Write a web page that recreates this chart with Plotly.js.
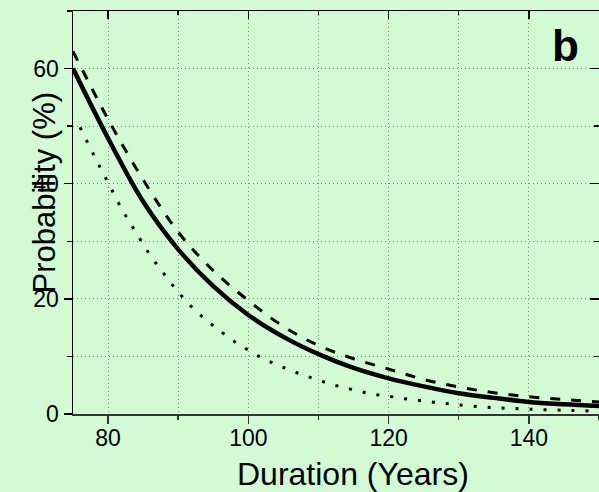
<!DOCTYPE html>
<html>
<head>
<meta charset="utf-8">
<script src="https://cdn.plot.ly/plotly-3.0.1.min.js"></script>
<style>html,body{margin:0;padding:0;background:#d3fbd3;}#chart{width:599px;height:492px;}</style>
</head>
<body>
<div id="chart"></div>
<script>
// Data
const years = [75,80,85,90,95,100,105,110,115,120,125,130,135,140,145,150];
const solidProb = [60,47.9,36.9,28.6,22.2,17.2,13.4,10.4,8.0,6.2,4.8,3.6,2.8,2.1,1.7,1.4];
const dashedProb = [63,51.2,40.7,31.6,24.9,19.7,15.2,11.9,9.6,7.8,6.0,4.7,3.7,3.0,2.5,2.1];
const dottedYears = [76,78,80,82,84,86,88,90,92,94,96,98,100,102,104,106,108,110,112,114,116,118,120,122,124,126,128,130,133,136,140,145,150];
const dottedProb = [49.8,44.9,40.2,35.5,31.5,27.6,24.3,21.2,18.5,16.3,14.4,12.6,11.1,9.7,8.6,7.6,6.7,5.9,5.1,4.5,3.9,3.4,3.1,2.7,2.4,2.1,1.85,1.6,1.25,1.05,0.85,0.65,0.5];
const xTickVals = [80,100,120,140];
const yTickVals = [0,20,40,60];
const xTitle = 'Duration (Years)';
const yTitle = 'Probability (%)';
const panelLabel = 'b';

const FONT = 'Arial, "Liberation Sans", Helvetica, sans-serif';
const BG = '#d3fbd3';
const gridDash = '1px,3px';
const gridColor = '#808080';

const traces = [
  {x: dottedYears, y: dottedProb, mode: 'lines', line: {color: '#000', width: 3, dash: '3px,11px', shape: 'spline'}, hoverinfo: 'skip'},
  {x: years, y: dashedProb, mode: 'lines', line: {color: '#000', width: 3, dash: '10px,11px', shape: 'spline'}, hoverinfo: 'skip'},
  {x: years, y: solidProb, mode: 'lines', line: {color: '#000', width: 4.5, shape: 'spline'}, hoverinfo: 'skip'},
  // invisible helper trace for the top / right inward ticks
  {x: [75,150], y: [0,0], xaxis: 'x2', yaxis: 'y2', mode: 'lines', line: {width: 0}, showlegend: false, hoverinfo: 'skip'}
];

const layout = {
  width: 599, height: 492,
  margin: {l: 73, r: 0, t: 11, b: 78},
  paper_bgcolor: BG, plot_bgcolor: BG,
  showlegend: false,
  font: {family: FONT, color: '#000', size: 23},
  xaxis: {
    range: [75, 150], tickvals: xTickVals, ticks: 'outside', ticklen: 8, tickwidth: 1.5, tickcolor: '#333',
    showline: true, linecolor: '#333', linewidth: 1.5, ticklabelstandoff: -5,
    showgrid: true, gridcolor: gridColor, griddash: gridDash, gridwidth: 1,
    zeroline: false, tickfont: {size: 23, family: FONT},
    minor: {dtick: 10, tick0: 0, ticks: 'outside', ticklen: 4, tickwidth: 1.5, tickcolor: '#333', showgrid: true, gridcolor: gridColor, griddash: gridDash, gridwidth: 1}
  },
  yaxis: {
    range: [0, 70], tickvals: yTickVals, ticks: 'outside', ticklen: 8, tickwidth: 1.5, tickcolor: '#000',
    showline: true, linecolor: '#000', linewidth: 1.5,
    showgrid: true, gridcolor: gridColor, griddash: gridDash, gridwidth: 1,
    zeroline: false, tickfont: {size: 23, family: FONT},
    minor: {dtick: 10, tick0: 0, ticks: 'outside', ticklen: 5, tickwidth: 1.5, tickcolor: '#000', showgrid: true, gridcolor: gridColor, griddash: gridDash, gridwidth: 1}
  },
  xaxis2: {
    overlaying: 'x', side: 'top', range: [75, 150], tickvals: xTickVals, ticks: 'inside', ticklen: 8, tickwidth: 1.5, tickcolor: '#000',
    showline: true, linecolor: '#000', linewidth: 1.5, showticklabels: false, showgrid: false, zeroline: false,
    minor: {dtick: 10, tick0: 0, ticks: 'inside', ticklen: 4, tickwidth: 1.5, tickcolor: '#000', showgrid: false}
  },
  yaxis2: {
    overlaying: 'y', side: 'right', range: [0, 70], tickvals: yTickVals, ticks: 'inside', ticklen: 9, tickwidth: 1.5, tickcolor: '#000',
    showline: false, showticklabels: false, showgrid: false, zeroline: false,
    minor: {dtick: 10, tick0: 0, ticks: 'inside', ticklen: 5, tickwidth: 1.5, tickcolor: '#000', showgrid: false}
  },
  annotations: [
    {text: xTitle, xref: 'paper', yref: 'paper', x: (353-73)/526, y: (414-474)/403, xanchor: 'center', yanchor: 'middle', showarrow: false, font: {size: 32, family: FONT, color: '#000'}},
    {text: yTitle, xref: 'paper', yref: 'paper', x: (44-73)/526, y: (414-192.5)/403, xanchor: 'center', yanchor: 'middle', textangle: -90, showarrow: false, font: {size: 31, family: FONT, color: '#000'}},
    {text: '<b>' + panelLabel + '</b>', xref: 'paper', yref: 'paper', x: (565-73)/526, y: (414-45)/403, xanchor: 'center', yanchor: 'middle', showarrow: false, font: {size: 44, family: FONT, color: '#000'}}
  ]
};

Plotly.newPlot('chart', traces, layout, {staticPlot: true, displayModeBar: false});
</script>
</body>
</html>
